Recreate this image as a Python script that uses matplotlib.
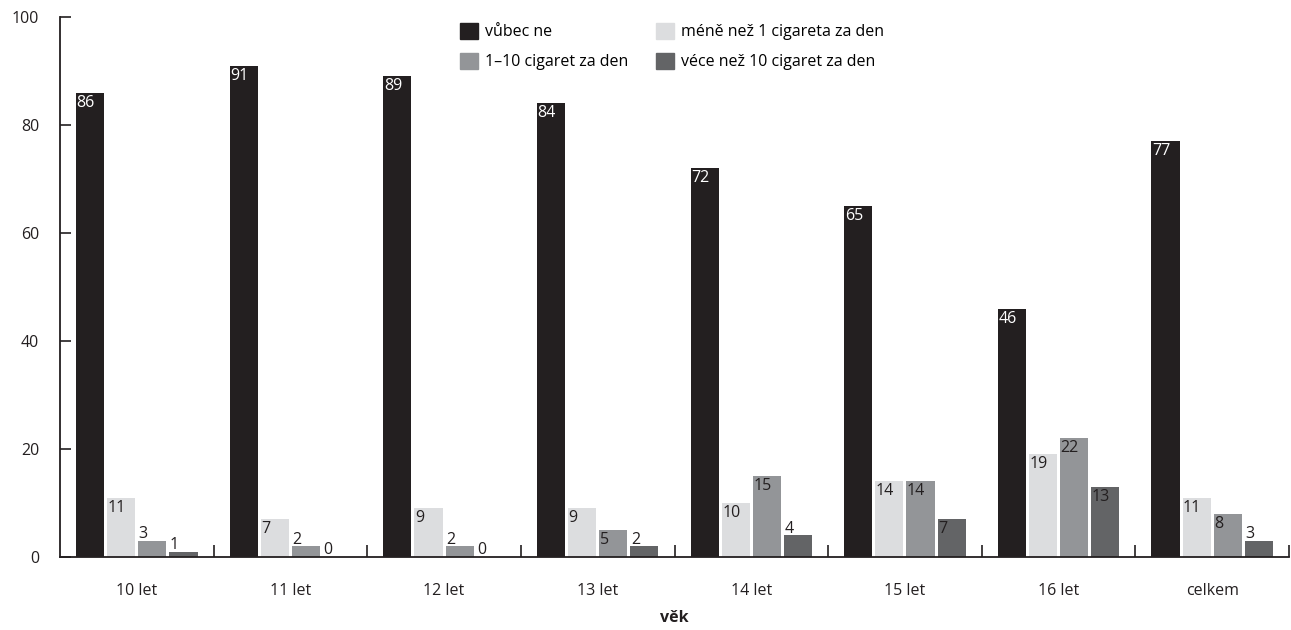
import numpy as np
import matplotlib
matplotlib.use("Agg")
import matplotlib.pyplot as plt
from matplotlib.patches import Patch

plt.rcParams["font.family"] = ["Open Sans", "DejaVu Sans"]

categories = ["10 let", "11 let", "12 let", "13 let", "14 let", "15 let", "16 let", "celkem"]
series_names = ["vůbec ne", "méně než 1 cigareta za den", "1–10 cigaret za den", "véce než 10 cigaret za den"]
vubec_ne = [86, 91, 89, 84, 72, 65, 46, 77]
mene_nez_1 = [11, 7, 9, 9, 10, 14, 19, 11]
od_1_do_10 = [3, 2, 2, 5, 15, 14, 22, 8]
vice_nez_10 = [1, 0, 0, 2, 4, 7, 13, 3]

COLORS = ["#231f20", "#dcdddf", "#939598", "#636466"]
TXT = ["white", "#231f20", "#231f20", "#231f20"]
series = [vubec_ne, mene_nez_1, od_1_do_10, vice_nez_10]
FS = 11.5

fig = plt.figure(figsize=(12.91, 6.30), dpi=100)
ax = fig.add_axes([60 / 1291, 1 - 557 / 630, 1229 / 1291, 540 / 630])

x = np.arange(len(categories))
pitch, width = 0.2026, 0.183
for i, (vals, col, tc) in enumerate(zip(series, COLORS, TXT)):
    pos = x + (i - 1.5) * pitch
    ax.bar(pos, vals, width=width, color=col, linewidth=0)
    for p, v in zip(pos, vals):
        lx = p - width / 2 + 0.003
        if v >= 5:
            ax.annotate(str(v), (lx, v), xytext=(0, -1.5), textcoords="offset points",
                        ha="left", va="top", color=tc, fontsize=FS)
        else:
            ax.annotate(str(v), (lx, v), xytext=(0, -1), textcoords="offset points",
                        ha="left", va="bottom", color="#231f20", fontsize=FS)

ax.set_xlim(-0.5, 7.5)
ax.set_ylim(0, 100)
ax.set_yticks([0, 20, 40, 60, 80, 100])
ax.tick_params(axis="y", direction="in", length=8, width=1.2, pad=15,
               labelsize=FS, colors="#231f20")
ax.set_xticks(x)
ax.set_xticklabels(categories)
ax.tick_params(axis="x", which="major", length=0, pad=19, labelsize=FS, colors="#231f20")
ax.set_xticks(np.arange(0.5, 8, 1), minor=True)
ax.tick_params(axis="x", which="minor", direction="in", length=9, width=1.2, color="#231f20")
ax.set_xlabel("věk", fontweight="bold", fontsize=FS, labelpad=8, color="#231f20")

for s in ["top", "right"]:
    ax.spines[s].set_visible(False)
for s in ["left", "bottom"]:
    ax.spines[s].set_linewidth(1.3)
    ax.spines[s].set_color("#231f20")

order = [0, 2, 1, 3]
handles = [Patch(color=COLORS[k]) for k in order]
labels = [series_names[k] for k in order]
fig.legend(handles, labels, ncol=2, loc="upper left", bbox_to_anchor=(446 / 1291, 1 - 9 / 630),
           frameon=False, handlelength=1.1, handleheight=1.1, handletextpad=0.45,
           columnspacing=1.75, labelspacing=0.8, fontsize=FS)

fig.savefig("out.png", dpi=100)
